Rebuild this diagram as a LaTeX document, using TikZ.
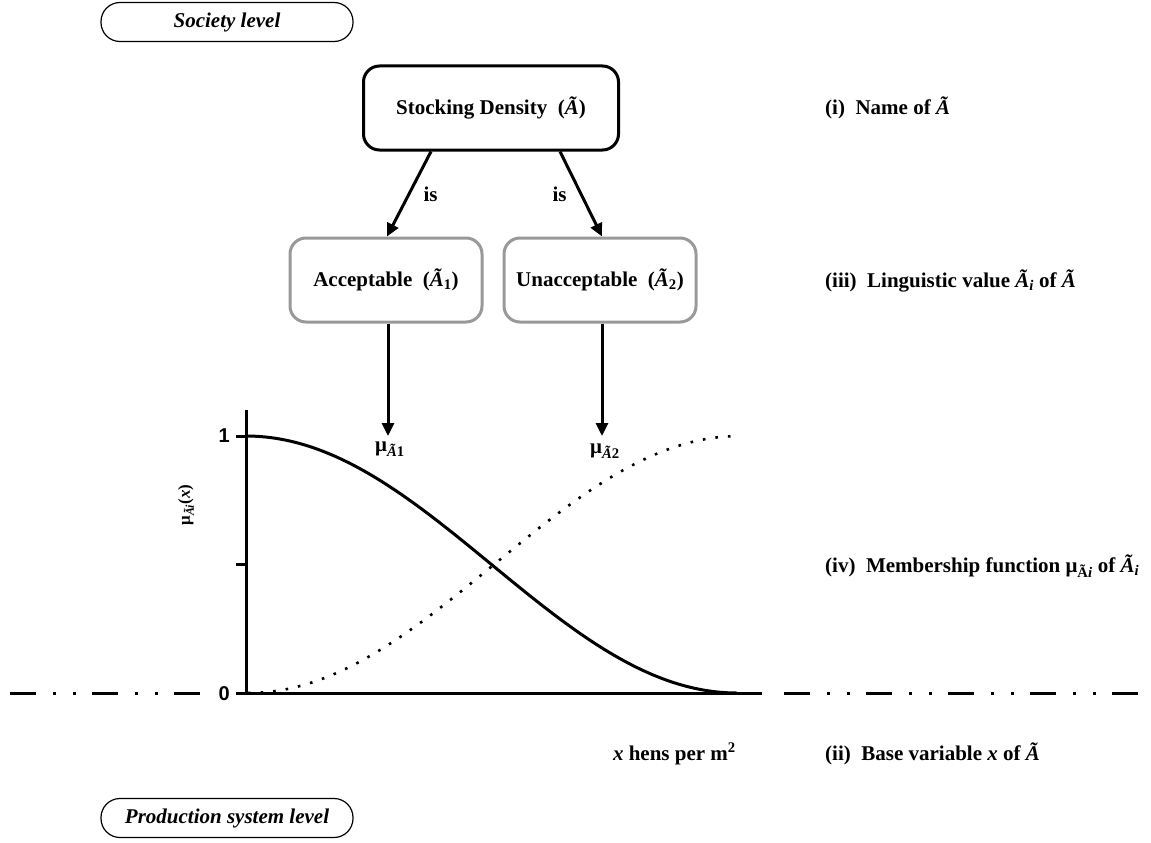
\documentclass[tikz,border=0pt]{standalone}
\usepackage{fontspec}
\setmainfont{Liberation Serif}
\newfontfamily\arialf{Liberation Sans}
\usetikzlibrary{arrows.meta}
\begin{document}
\begin{tikzpicture}[x=1pt,y=-1pt,
  font=\fontsize{21}{24}\selectfont\bfseries,
  levelbox/.style={draw, line width=1.2pt, rounded corners=19pt, minimum width=252pt, minimum height=39pt, inner sep=0pt, font=\fontsize{21}{24}\selectfont\bfseries\itshape},
  mainbox/.style={draw, line width=3pt, rounded corners=16pt, minimum width=255pt, minimum height=84pt, inner sep=0pt},
  valbox/.style={draw=gray!80, line width=3pt, rounded corners=16pt, minimum width=192pt, minimum height=84pt, inner sep=0pt},
  arr/.style={line width=3pt, -{Triangle[length=13pt,width=12pt]}},
  lbl/.style={anchor=west, inner sep=0pt},
  axisline/.style={line width=3pt},
  dashdot/.style={line width=3pt, dash pattern=on 26pt off 17pt on 3pt off 17pt on 3pt off 16pt},
  num/.style={font=\arialf\fontsize{20}{22}\selectfont\bfseries, inner sep=0pt},
  mulbl/.style={inner sep=1pt, font=\fontsize{21}{23}\selectfont\bfseries}
]
\useasboundingbox (0,0) rectangle (1151,843);

% level boxes
\node[levelbox] (soc) at (227,22) {Society level};
\node[levelbox] (prod) at (227,818) {Production system level};

% hierarchy
\node[mainbox] (sd) at (491,108) {Stocking Density\ \ (\textit{Ã})};
\node[valbox] (acc) at (386,280) {Acceptable\ \ (\textit{Ã}\textsubscript{1})};
\node[valbox] (una) at (600,280) {Unacceptable\ \ (\textit{Ã}\textsubscript{2})};

\draw[arr] ([xshift=-60pt]sd.south) -- node[pos=0.5, right=13pt, inner sep=0pt] (is1) {is} ([xshift=1pt]acc.north);
\draw[arr] ([xshift=69pt]sd.south) -- node[pos=0.5, left=13pt, inner sep=0pt] (is2) {is} ([xshift=2pt]una.north);

\node[mulbl] (mu1) at (390,449) {μ\textsubscript{\textit{Ã}1}};
\node[mulbl] (mu2) at (605,451) {μ\textsubscript{\textit{Ã}2}};
\draw[arr] ([xshift=2pt]acc.south) -- (388,436);
\draw[arr] ([xshift=2pt]una.south) -- (602,436);

% right labels
\node[lbl] (li) at (825,108) {(i)\ \ Name of \textit{Ã}};
\node[lbl] (liii) at (825,281) {(iii)\ \ Linguistic value \textit{Ã}\textsubscript{\textit{i}} of \textit{Ã}};
\node[lbl] (liv) at (825,566) {(iv)\ \ Membership function μ\textsubscript{Ã\textit{i}} of \textit{Ã}\textsubscript{\textit{i}}};
\node[lbl] (lii) at (825,754) {(ii)\ \ Base variable \textit{x} of \textit{Ã}};
\node[anchor=east, inner sep=0pt] (xl) at (736,754) {\textit{x} hens per m\textsuperscript{2}};

% axes
\coordinate (O) at (246,693);
\coordinate (ytop) at (246,410);
\coordinate (xa0) at (236,693);
\coordinate (xa1) at (762,693);
\draw[axisline] (O) -- (ytop);
\draw[axisline] (xa0) -- (xa1);
\coordinate (t1) at (236,436);
\coordinate (t1e) at (246,436);
\coordinate (th) at (236,564);
\coordinate (the) at (246,564);
\draw[axisline] (t1) -- (t1e);
\draw[axisline] (th) -- (the);
\node[num, anchor=east] (one) at (230,436) {1};
\node[num, anchor=east] (zero) at (230,694) {0};
\node[rotate=90, font=\fontsize{17}{19}\selectfont\bfseries] (ylab) at (186,505) {μ\textsubscript{\textit{Ãi}}(\textit{x})};

% dash-dot base line
\coordinate (L1) at (10,693);
\coordinate (L2) at (200,693);
\coordinate (R1) at (784,693);
\coordinate (R2) at (1138,693);
\draw[dashdot] (L1) -- (L2);
\draw[dashdot] (R1) -- (R2);

% membership curves
\draw[line width=3pt] plot[domain=0:1, samples=80, smooth] ({246+491*\x},{436+257*(1-cos(180*\x))/2});
\draw[line width=2.6pt, dash pattern=on 2.6pt off 10pt] plot[domain=0:1, samples=80, smooth] ({248+492*\x},{693-257*(1-cos(180*\x))/2});
\end{tikzpicture}
\end{document}
